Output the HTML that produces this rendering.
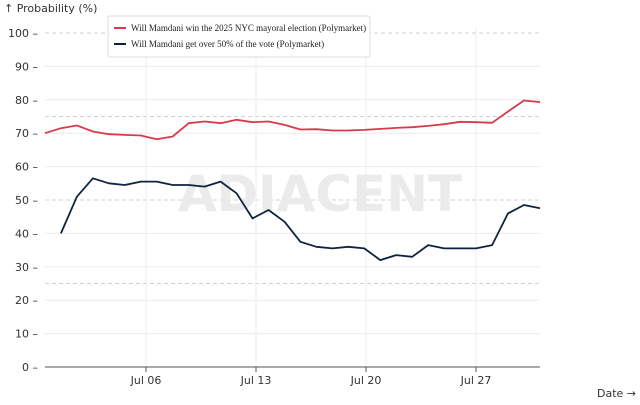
<!DOCTYPE html>
<html><head><meta charset="utf-8"><style>
body{margin:0;background:#fff;width:640px;height:400px;overflow:hidden}
svg{font-family:"DejaVu Sans","Liberation Sans",sans-serif}
</style></head><body>
<svg id="chart" width="640" height="400" viewBox="0 0 640 400" xmlns="http://www.w3.org/2000/svg">
<text x="4" y="12" font-size="11" fill="#333">↑ Probability (%)</text>
<text x="636" y="397" font-size="11" fill="#333" text-anchor="end">Date →</text>
<g id="grid"></g>
<text x="320" y="211" font-size="50" font-weight="bold" fill="#ebebeb" text-anchor="middle">ADIACENT</text>
<g id="marks"></g>
<g>
<rect x="108" y="16" width="262" height="41" fill="#fff" stroke="#ddd" rx="2"/>
<line x1="114" y1="28" x2="126" y2="28" stroke="#d93a4a" stroke-width="2"/>
<text x="131" y="31" font-size="9" fill="#222" font-family="Liberation Serif,serif">Will Mamdani win the 2025 NYC mayoral election (Polymarket)</text>
<line x1="114" y1="44" x2="126" y2="44" stroke="#0f2340" stroke-width="2"/>
<text x="131" y="47" font-size="9" fill="#222" font-family="Liberation Serif,serif">Will Mamdani get over 50% of the vote (Polymarket)</text>
</g>
</svg>
<script>
const yTicks=[0,10,20,30,40,50,60,70,80,90,100];
const dashedLevels=[25,50,75,100];
const xTickDays=[6,13,20,27];
const xTickLabels=["Jul 06","Jul 13","Jul 20","Jul 27"];
const winValues=[70,71.5,72.3,70.5,69.7,69.5,69.3,68.2,69,73,73.5,73,74,73.3,73.5,72.5,71.1,71.2,70.8,70.8,71,71.3,71.6,71.8,72.2,72.7,73.4,73.3,73.1,76.5,79.8,79.3];
const over50Values=[null,40,51,56.5,55,54.5,55.5,55.5,54.5,54.5,54,55.5,52,44.5,47,43.5,37.5,36,35.5,36,35.5,32,33.5,33,36.5,35.5,35.5,35.5,36.5,46,48.5,47.5];
const NS="http://www.w3.org/2000/svg";
const X0=45,X1=540;
function x(d){return 146+(d-6)*(110/7);}
function y(v){return 367-v*3.34;}
function dayOf(i){return -0.43+i*(31.5/31);}
function mk(t,a,p){const e=document.createElementNS(NS,t);for(const k in a)e.setAttribute(k,a[k]);p.appendChild(e);return e;}
const g=document.getElementById('grid'),m=document.getElementById('marks');
yTicks.forEach(v=>{
 const dashed=dashedLevels.includes(v);
 const l=mk('line',{x1:X0,x2:X1,y1:y(v),y2:y(v),stroke:dashed?'#d0d0d0':'#ececec','stroke-dasharray':dashed?'4,3':''},g);
 
 
 const t=mk('text',{x:38,y:y(v)+4,'font-size':11,fill:'#333','text-anchor':'end'},g);t.textContent=v+' –';
 
 
});
dashedLevels.filter(v=>v%10!==0).forEach(v=>{
 const l=mk('line',{x1:X0,x2:X1,y1:y(v),y2:y(v),stroke:'#d0d0d0','stroke-dasharray':'4,3'},g);
 
 
});
xTickDays.forEach((d,i)=>{
 const l=mk('line',{x1:x(d),x2:x(d),y1:y(100)-6,y2:y(0),stroke:'#ececec'},g);
 
 
 const tk=mk('line',{x1:x(d),x2:x(d),y1:y(0),y2:y(0)+5,stroke:'#555'},g);
 
 
 const t=mk('text',{x:x(d),y:384,'font-size':11,fill:'#333','text-anchor':'middle'},g);t.textContent=xTickLabels[i];
 
 
});
const ax=mk('line',{x1:X0,x2:X1,y1:y(0),y2:y(0),stroke:'#555'},g);


function path(vals,color,name){
 let d='';vals.forEach((v,i)=>{if(v==null)return;d+=(d?'L':'M')+Math.max(X0,x(dayOf(i))).toFixed(1)+','+y(v).toFixed(1);});
 const p=mk('path',{d:d,fill:'none',stroke:color,'stroke-width':1.8,'stroke-linejoin':'round'},m);
 
 
}
path(winValues,'#d93a4a','win-election-line');
path(over50Values,'#0f2340','over-50-percent-line');
</script>
</body></html>
